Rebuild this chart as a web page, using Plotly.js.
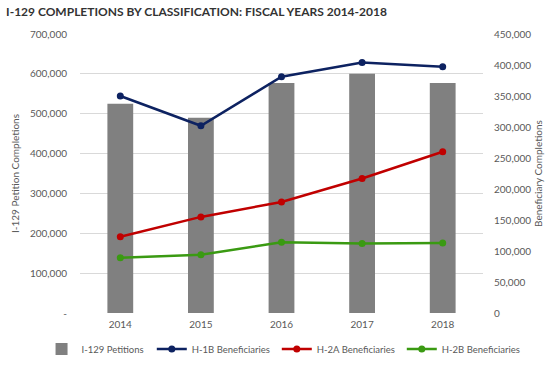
<!DOCTYPE html>
<html><head><meta charset="utf-8">
<script src="https://cdn.plot.ly/plotly-3.0.1.min.js"></script>
<style>body{margin:0;background:#fff}#c{width:554px;height:365px}</style>
</head><body><div id="c"></div>
<script>
const years = ['2014','2015','2016','2017','2018'];
const petitions = [525000, 490000, 577000, 600000, 577000];
const h1b = [350000, 302000, 381000, 404000, 397000];
const h2a = [123000, 155000, 179000, 217000, 260000];
const h2b = [89000, 94000, 114000, 112000, 113000];
const leftTicks = [0,100000,200000,300000,400000,500000,600000,700000];
const leftTickText = ['-','100,000','200,000','300,000','400,000','500,000','600,000','700,000'];
const rightTicks = [0,50000,100000,150000,200000,250000,300000,350000,400000,450000];
const rightTickText = ['0','50,000','100,000','150,000','200,000','250,000','300,000','350,000','400,000','450,000'];

const F = 'Lato, "Noto Sans", sans-serif';
const traces = [
  {type:'bar', x:years, y:petitions, name:'I-129 Petitions', marker:{color:'#808080'}, yaxis:'y', legend:'legend'},
  {type:'scatter', mode:'lines+markers', x:years, y:h1b, name:'H-1B Beneficiaries', line:{color:'#0d2261',width:2.5}, marker:{size:7,color:'#0d2261'}, yaxis:'y2', legend:'legend2'},
  {type:'scatter', mode:'lines+markers', x:years, y:h2a, name:'H-2A Beneficiaries', line:{color:'#c00000',width:2.5}, marker:{size:7,color:'#c00000'}, yaxis:'y2', legend:'legend2'},
  {type:'scatter', mode:'lines+markers', x:years, y:h2b, name:'H-2B Beneficiaries', line:{color:'#3a9a12',width:2.5}, marker:{size:7,color:'#3a9a12'}, yaxis:'y2', legend:'legend2'}
];
const legCommon = {orientation:'h', xref:'container', yref:'container', xanchor:'left', y:0.044, yanchor:'middle', font:{size:9.5,color:'#595959'}, traceorder:'normal', itemwidth:30, bgcolor:'rgba(0,0,0,0)'};
const layout = {
  width:554, height:365,
  margin:{l:80, r:71, t:34, b:52, autoexpand:false},
  paper_bgcolor:'#fff', plot_bgcolor:'#fff',
  font:{family:F, size:10, color:'#595959'},
  title:{text:'<b>I-129 COMPLETIONS BY CLASSIFICATION: FISCAL YEARS 2014-2018</b>', x:0.011, xanchor:'left', y:0.967, yanchor:'middle', font:{family:F, size:12, color:'#333'}},
  bargap:0.68,
  xaxis:{type:'category', showgrid:false, zeroline:false, showline:false, ticks:'', tickfont:{size:10,color:'#595959'}, ticklabelstandoff:4},
  yaxis:{range:[0,700000], tickvals:leftTicks, ticktext:leftTickText, showgrid:true, gridcolor:'#d9d9d9', zeroline:false, showline:false, ticks:'', tickfont:{size:10}, ticklabelstandoff:12,
         title:{text:'I-129 Petition Completions', font:{size:10,color:'#595959'}, standoff:8}},
  yaxis2:{overlaying:'y', side:'right', range:[0,450000], tickvals:rightTicks, ticktext:rightTickText, showgrid:false, zeroline:false, showline:false, ticks:'', tickfont:{size:10}, ticklabelstandoff:10,
         title:{text:'Beneficiary Completions', font:{size:10,color:'#595959'}, standoff:4}},
  legend:Object.assign({}, legCommon, {x:0.075}),
  legend2:Object.assign({}, legCommon, {x:0.274, entrywidth:80, entrywidthmode:'pixels'}),
  showlegend:true
};
Plotly.newPlot('c', traces, layout, {displayModeBar:false, staticPlot:true});
</script></body></html>
